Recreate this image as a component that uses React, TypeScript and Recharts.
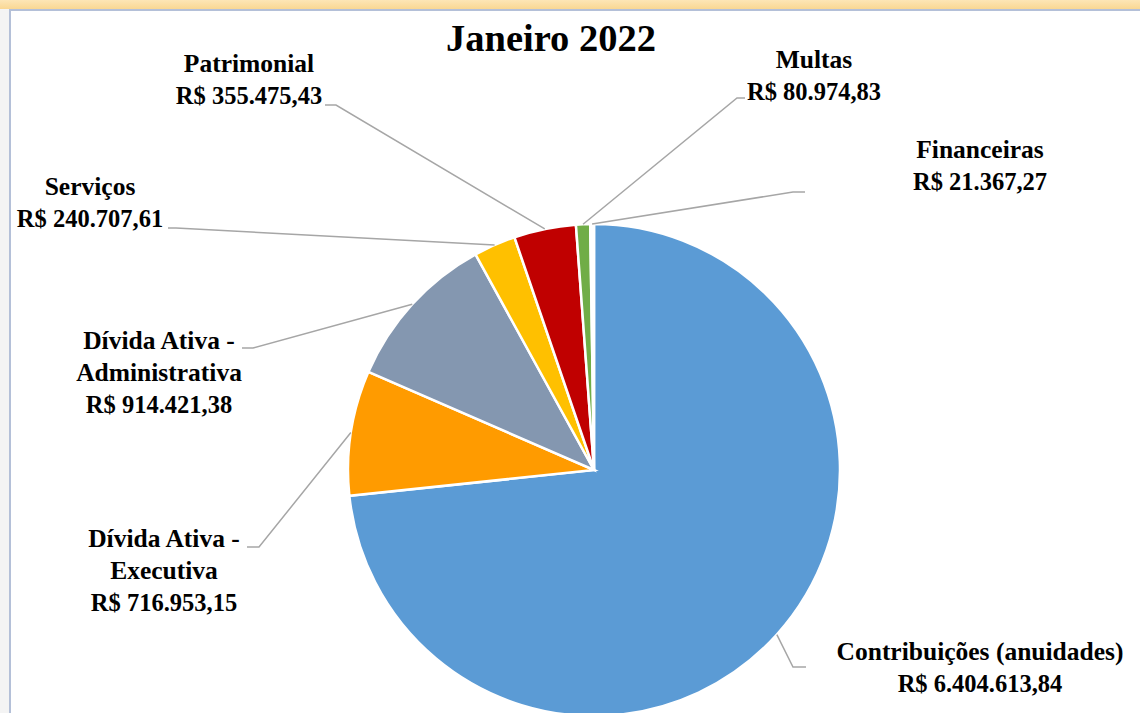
import React from 'react';
import { PieChart, Pie, Cell } from 'recharts';

const CATEGORIES = [
  'Contribuições (anuidades)',
  'Dívida Ativa - Executiva',
  'Dívida Ativa - Administrativa',
  'Serviços',
  'Patrimonial',
  'Multas',
  'Financeiras',
];
const VALUES = [6404613.84, 716953.15, 914421.38, 240707.61, 355475.43, 80974.83, 21367.27];
const COLORS = ['#5b9bd5', '#ff9b00', '#8497b0', '#ffc000', '#c00000', '#70ad47', '#ffffff'];
const TITLE = 'Janeiro 2022';

// label text lines per slice (name split the way the original wraps it)
const LABEL_LINES = [
  ['Contribuições (anuidades)'],
  ['Dívida Ativa -', 'Executiva'],
  ['Dívida Ativa -', 'Administrativa'],
  ['Serviços'],
  ['Patrimonial'],
  ['Multas'],
  ['Financeiras'],
];

// where each label sits: text centre x, first baseline y, and the leader line end + elbow
const LABEL_LAYOUT = [
  { x: 980, y: 660, lx: 806, ly: 667, ex: 793 },
  { x: 164, y: 547, lx: 247, ly: 547, ex: 259 },
  { x: 159, y: 349, lx: 242, ly: 348, ex: 253 },
  { x: 90, y: 195, lx: 168, ly: 228, ex: 176 },
  { x: 249, y: 72, lx: 325, ly: 105, ex: 336 },
  { x: 814, y: 68, lx: 745, ly: 98, ex: 737 },
  { x: 980, y: 158, lx: 805, ly: 192, ex: 793 },
];

const data = CATEGORIES.map((name, i) => ({ name, value: VALUES[i] }));

const FONT = "'Palatino Linotype', 'Book Antiqua', Palatino, 'Liberation Serif', serif";
const RAD = Math.PI / 180;
const LINE_H = 32;

const formatBRL = (v: number) => {
  const [int, dec] = v.toFixed(2).split('.');
  return 'R$ ' + int.replace(/\B(?=(\d{3})+(?!\d))/g, '.') + ',' + dec;
};

const renderLabel = (props: any) => {
  const { cx, cy, midAngle, outerRadius, index, value } = props;
  const lay = LABEL_LAYOUT[index];
  const ax = cx + outerRadius * Math.cos(-midAngle * RAD);
  const ay = cy + outerRadius * Math.sin(-midAngle * RAD);
  const names = LABEL_LINES[index];
  return (
    <g key={`lbl-${index}`}>
      <polyline
        points={`${lay.lx},${lay.ly} ${lay.ex},${lay.ly} ${ax},${ay}`}
        fill="none"
        stroke="#a6a6a6"
        strokeWidth={1.5}
      />
      <text
        x={lay.x}
        y={lay.y}
        textAnchor="middle"
        fontFamily={FONT}
        fontWeight="bold"
        fontSize={25.5}
        fill="#000"
      >
        {names.map((t, i) => (
          <tspan key={i} x={lay.x} y={lay.y + i * LINE_H}>
            {t}
          </tspan>
        ))}
        <tspan x={lay.x} y={lay.y + names.length * LINE_H} fontSize={24.5}>
          {formatBRL(value)}
        </tspan>
      </text>
    </g>
  );
};

export default function App() {
  return (
    <div style={{ position: 'absolute', left: 0, top: 0, width: 1140, height: 713, background: '#fff', overflow: 'hidden' }}>
      <div style={{ position: 'absolute', left: 0, top: 0, width: 1140, height: 9, background: 'linear-gradient(#fde6b6, #f9d793)' }} />
      <div style={{ position: 'absolute', left: 0, top: 9, width: 9, height: 704, background: '#f4f4f4' }} />
      <div style={{ position: 'absolute', left: 9, top: 9, width: 1131, height: 2, background: '#b4c0d8' }} />
      <div style={{ position: 'absolute', left: 9, top: 9, width: 2, height: 704, background: '#b4c0d8' }} />
      <div style={{ position: 'absolute', left: 0, top: 0 }}>
        <PieChart width={1140} height={713} margin={{ top: 0, right: 0, bottom: 0, left: 0 }}>
          <text x={551} y={51} textAnchor="middle" fontFamily={FONT} fontWeight="bold" fontSize={38.5} fill="#000">
            {TITLE}
          </text>
          <Pie
            data={data}
            dataKey="value"
            nameKey="name"
            cx={594}
            cy={470}
            outerRadius={246}
            startAngle={90}
            endAngle={-270}
            stroke="#ffffff"
            strokeWidth={2.5}
            labelLine={false}
            label={renderLabel}
            isAnimationActive={false}
          >
            {data.map((entry, index) => (
              <Cell key={`cell-${index}`} fill={COLORS[index % COLORS.length]} />
            ))}
          </Pie>
        </PieChart>
      </div>
    </div>
  );
}
